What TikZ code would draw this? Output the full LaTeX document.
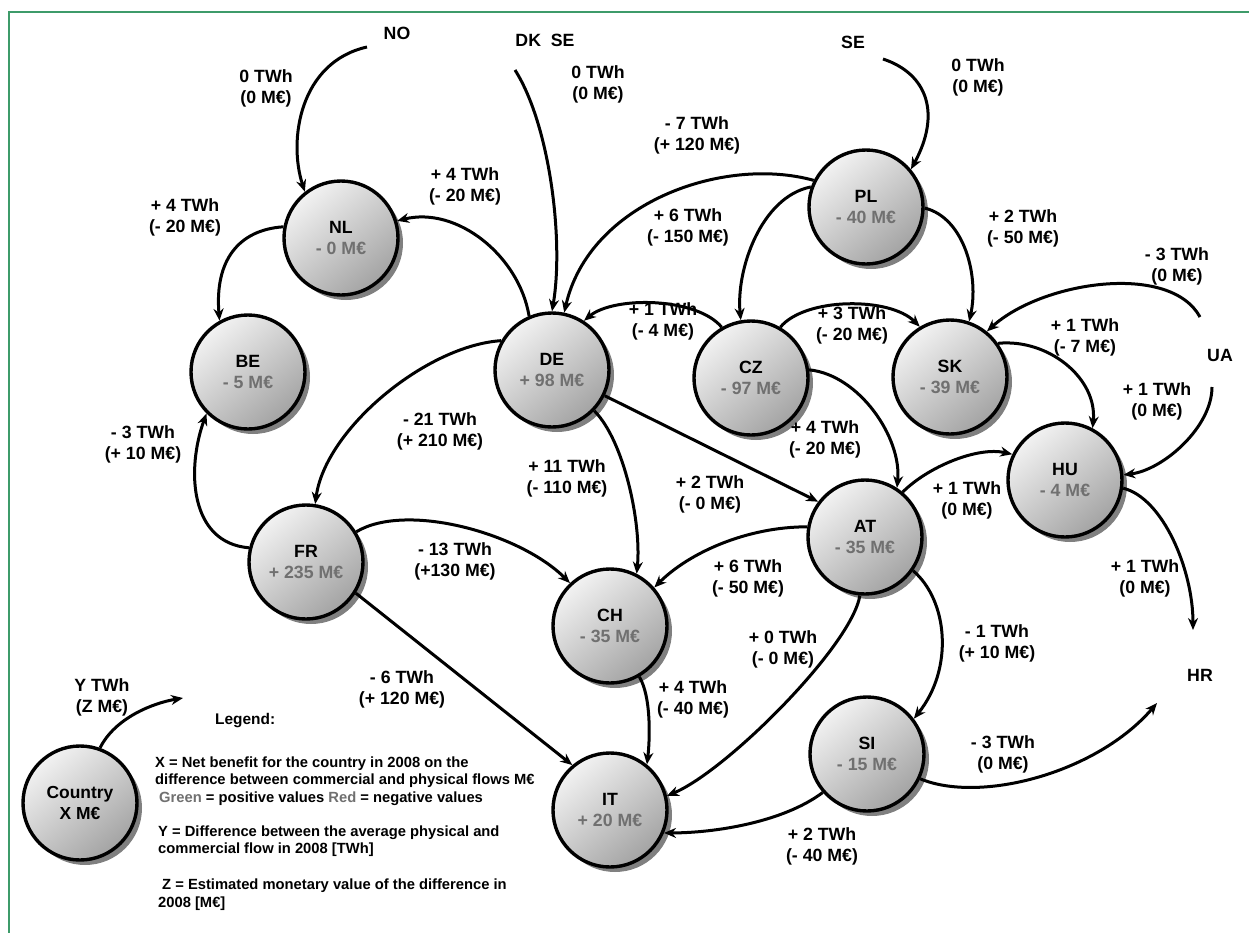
\documentclass[tikz,border=0pt]{standalone}
\usepackage{fontspec}
\setmainfont{Liberation Sans}
\usetikzlibrary{arrows.meta,shadows}
\definecolor{valgray}{HTML}{707070}
\definecolor{framegreen}{HTML}{3E9B6A}
\newcommand{\mval}[1]{\textcolor{valgray}{#1}}
\begin{document}
\begin{tikzpicture}[x=1bp,y=-1bp,
  country/.style={circle, draw=black, line width=3.4bp, minimum size=114bp, inner sep=0pt, align=center,
    top color=black!5, bottom color=black!36, shading angle=40,
    drop shadow={shadow xshift=5bp, shadow yshift=-5bp, fill=black!50, opacity=1},
    font=\fontsize{17.8}{21}\selectfont\bfseries},
  lbl/.style={align=center, inner sep=0pt, font=\fontsize{17.8}{21}\selectfont\bfseries},
  place/.style={inner sep=0pt, font=\fontsize{17.8}{21}\selectfont\bfseries},
  arr/.style={line width=3bp, -{Stealth[length=12bp,width=10bp]}},
  leg/.style={anchor=base west, inner sep=0pt, font=\fontsize{14.8}{17}\selectfont\bfseries}]
\useasboundingbox (0,0) rectangle (1249,933);
\fill[white] (0,0) rectangle (1249,933);
\draw[framegreen, line width=2bp] (9,933) -- (9,12) -- (1249,12);

% country nodes
\node[country] (nl) at (341,238) {NL\\\mval{- 0 M€}};
\node[country] (be) at (248,372) {BE\\\mval{- 5 M€}};
\node[country] (fr) at (306,562) {FR\\\mval{+ 235 M€}};
\node[country] (de) at (552,370) {DE\\\mval{+ 98 M€}};
\node[country] (cz) at (751,378) {CZ\\\mval{- 97 M€}};
\node[country] (pl) at (866,207) {PL\\\mval{- 40 M€}};
\node[country] (sk) at (950,377) {SK\\\mval{- 39 M€}};
\node[country] (hu) at (1065,480) {HU\\\mval{- 4 M€}};
\node[country] (at) at (865,537) {AT\\\mval{- 35 M€}};
\node[country] (ch) at (610,626) {CH\\\mval{- 35 M€}};
\node[country] (it) at (610,810) {IT\\\mval{+ 20 M€}};
\node[country] (si) at (867,754) {SI\\\mval{- 15 M€}};
\node[country, font=\fontsize{17.5}{22}\selectfont\bfseries] (cty) at (80,803) {Country\\X M€};

% outside places
\node[place] (no) at (397,33) {NO};
\node[place] (dkse) at (545,40) {DK\hspace{0.55em}SE};
\node[place] (se) at (853,42) {SE};
\node[place] (ua) at (1220,355) {UA};
\node[place] (hr) at (1200,675) {HR};

\coordinate (noS) at (367,47);
\coordinate (dkS) at (515,70);
\coordinate (seS) at (883,59);
\coordinate (uaA) at (1200,317);
\coordinate (uaB) at (1212,387);
\coordinate (hrA) at (1193,630);
\coordinate (hrB) at (1157,703);
\coordinate (legT) at (183,698);

% connectors
\draw[arr] (noS) .. controls +(-67,15) and +(-17,-52) .. (nl.128);
\draw[arr] (dkS) .. controls +(35,55) and +(12,-70) .. (de.90);
\draw[arr] (seS) .. controls +(45,15) and +(30,-55) .. (pl.40);
\draw[arr] (de.113) .. controls +(-10,-60) and +(60,-15) .. (nl.17);
\draw[arr] (nl.169) .. controls +(-45,3) and +(-5,-60) .. (be.119);
\draw[arr] (fr.166) .. controls +(-60,-5) and +(-20,55) .. (be.225);
\draw[arr] (de.150) .. controls +(-75,5) and +(10,-75) .. (fr.81);
\draw[arr] (pl.153) .. controls +(-90,-25) and +(25,-110) .. (de.78);
\draw[arr] (pl.160) .. controls +(-50,10) and +(-5,-50) .. (cz.100);
\draw[arr] (cz.120) .. controls +(-25,-30) and +(30,-25) .. (de.57);
\draw[arr] (cz.60) .. controls +(25,-30) and +(-30,-30) .. (sk.121);
\draw[arr] (pl.359) .. controls +(40,10) and +(10,-45) .. (sk.71);
\draw[arr] (uaA) .. controls +(-30,-55) and +(55,-50) .. (sk.51);
\draw[arr] (sk.35) .. controls +(50,-5) and +(5,-50) .. (hu.62);
\draw[arr] (uaB) .. controls +(0,40) and +(40,-5) .. (hu.5);
\draw[arr] (cz.8) .. controls +(50,5) and +(5,-50) .. (at.57);
\draw[arr] (de.334) -- (at.143);
\draw[arr] (de.316) .. controls +(30,30) and +(5,-50) .. (ch.63);
\draw[arr] (fr.31) .. controls +(50,-30) and +(-50,-50) .. (ch.133);
\draw[arr] (at.170) .. controls +(-60,0) and +(35,-35) .. (ch.41);
\draw[arr] (at.50) .. controls +(25,-25) and +(-35,-8) .. (hu.154);
\draw[arr] (hu.352) .. controls +(40,10) and +(0,-60) .. (hrA);
\draw[arr] (at.325) .. controls +(35,30) and +(40,-50) .. (si.37);
\draw[arr] (at.265) .. controls +(-8,50) and +(60,-25) .. (it.14);
\draw[arr] (fr.328) -- (it.130);
\draw[arr] (ch.300) .. controls +(12,20) and +(3,-25) .. (it.51);
\draw[arr] (si.221) .. controls +(-40,30) and +(50,0) .. (it.337);
\draw[arr] (si.335) .. controls +(60,25) and +(-60,70) .. (hrB);
\draw[arr] (cty.70) .. controls +(15,-30) and +(-30,5) .. (legT);

% edge labels
\node[lbl] (l1) at (266,88) {0 TWh\\(0 M€)};
\node[lbl] (l2) at (598,84) {0 TWh\\(0 M€)};
\node[lbl] (l3) at (978,77) {0 TWh\\(0 M€)};
\node[lbl] (l4) at (465,186) {+ 4 TWh\\(- 20 M€)};
\node[lbl] (l5) at (185,217) {+ 4 TWh\\(- 20 M€)};
\node[lbl] (l6) at (697,135) {- 7 TWh\\(+ 120 M€)};
\node[lbl] (l7) at (688,227) {+ 6 TWh\\(- 150 M€)};
\node[lbl] (l8) at (1023,228) {+ 2 TWh\\(- 50 M€)};
\node[lbl] (l9) at (1177,266) {- 3 TWh\\(0 M€)};
\node[lbl] (l10) at (663,321) {+ 1 TWh\\(- 4 M€)};
\node[lbl] (l11) at (852,325) {+ 3 TWh\\(- 20 M€)};
\node[lbl] (l12) at (1085,337) {+ 1 TWh\\(- 7 M€)};
\node[lbl] (l13) at (1157,401) {+ 1 TWh\\(0 M€)};
\node[lbl] (l14) at (440,431) {- 21 TWh\\(+ 210 M€)};
\node[lbl] (l15) at (143,444) {- 3 TWh\\(+ 10 M€)};
\node[lbl] (l16) at (825,439) {+ 4 TWh\\(- 20 M€)};
\node[lbl] (l17) at (567,478) {+ 11 TWh\\(- 110 M€)};
\node[lbl] (l18) at (710,494) {+ 2 TWh\\(- 0 M€)};
\node[lbl] (l19) at (967,500) {+ 1 TWh\\(0 M€)};
\node[lbl] (l20) at (455,561) {- 13 TWh\\(+130 M€)};
\node[lbl] (l21) at (748,578) {+ 6 TWh\\(- 50 M€)};
\node[lbl] (l22) at (1145,578) {+ 1 TWh\\(0 M€)};
\node[lbl] (l23) at (783,649) {+ 0 TWh\\(- 0 M€)};
\node[lbl] (l24) at (997,643) {- 1 TWh\\(+ 10 M€)};
\node[lbl] (l25) at (402,689) {- 6 TWh\\(+ 120 M€)};
\node[lbl] (l26) at (693,699) {+ 4 TWh\\(- 40 M€)};
\node[lbl] (l27) at (1003,754) {- 3 TWh\\(0 M€)};
\node[lbl] (l28) at (822,846) {+ 2 TWh\\(- 40 M€)};
\node[lbl] (l29) at (102,697) {Y TWh\\(Z M€)};

% legend
\node[leg, font=\fontsize{15.5}{18}\selectfont\bfseries] (lg0) at (215,724) {Legend:};
\node[leg] (lg1) at (155,767) {X = Net benefit for the country in 2008 on the};
\node[leg] (lg2) at (155,784.6) {difference between commercial and physical flows M€};
\node[leg] (lg3) at (159,802.6) {\mval{Green} = positive values \mval{Red} = negative values};
\node[leg] (lg4) at (158,836) {Y = Difference between the average physical and};
\node[leg] (lg5) at (158,853.6) {commercial flow in 2008 [TWh]};
\node[leg] (lg6) at (162,889.3) {Z = Estimated monetary value of the difference in};
\node[leg] (lg7) at (158,907) {2008 [M€]};
\end{tikzpicture}
\end{document}
